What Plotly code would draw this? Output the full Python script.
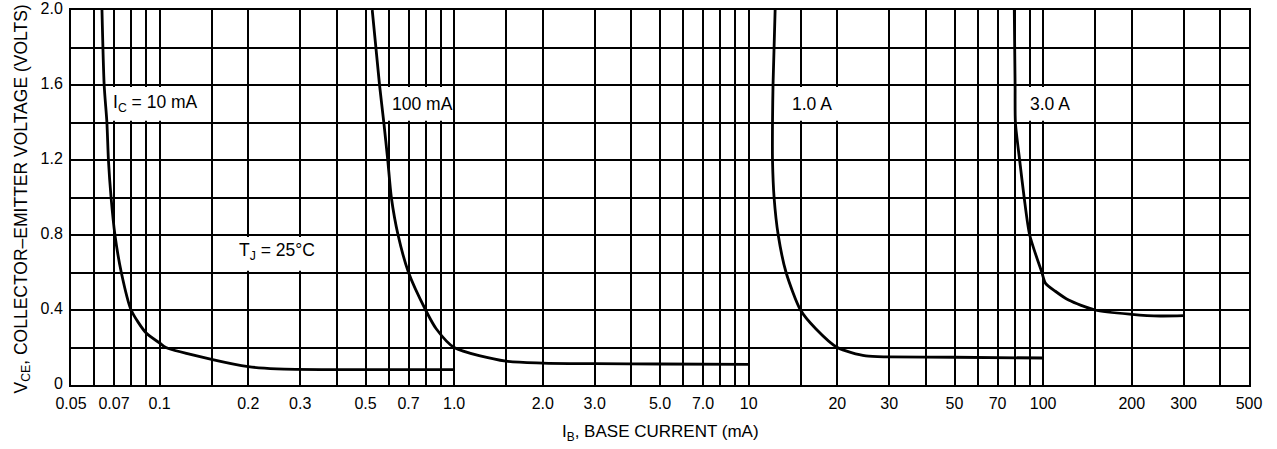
import plotly.graph_objects as go
import math

# ---- data ----
ib_10ma = [0.0637, 0.0648, 0.0662, 0.0670, 0.0684, 0.0705, 0.0741, 0.080, 0.090, 0.100, 0.105, 0.150, 0.200, 0.250, 0.40, 0.70, 1.00]
vce_10ma = [2.00, 1.60, 1.40, 1.20, 1.00, 0.80, 0.60, 0.40, 0.277, 0.224, 0.20, 0.137, 0.098, 0.086, 0.082, 0.082, 0.082]

ib_100ma = [0.527, 0.558, 0.577, 0.595, 0.612, 0.645, 0.70, 0.80, 0.869, 1.00, 1.50, 2.00, 3.00, 5.00, 10.0]
vce_100ma = [2.00, 1.60, 1.40, 1.20, 1.00, 0.80, 0.60, 0.40, 0.30, 0.20, 0.127, 0.117, 0.114, 0.112, 0.110]

ib_1a = [12.3, 12.1, 12.05, 12.05, 12.2, 12.6, 13.4, 15.0, 16.9, 20.0, 25.0, 30.0, 50.0, 100.0]
vce_1a = [2.00, 1.60, 1.40, 1.20, 1.00, 0.80, 0.60, 0.40, 0.30, 0.20, 0.155, 0.150, 0.148, 0.144]

ib_3a = [79.8, 80.3, 80.5, 83.2, 86.2, 90.0, 99.0, 101.9, 110.0, 122.0, 150.0, 200.0, 250.0, 300.0]
vce_3a = [2.00, 1.60, 1.40, 1.20, 1.00, 0.80, 0.60, 0.542, 0.50, 0.453, 0.40, 0.377, 0.368, 0.370]

x_tick_vals = [0.05, 0.07, 0.1, 0.2, 0.3, 0.5, 0.7, 1.0, 2.0, 3.0, 5.0, 7.0, 10, 20, 30, 50, 70, 100, 200, 300, 500]
x_tick_text = ["0.05", "0.07", "0.1", "0.2", "0.3", "0.5", "0.7", "1.0", "2.0", "3.0", "5.0", "7.0",
               "10", "20", "30", "50", "70", "100", "200", "300", "500"]
x_minor_vals = [0.06, 0.08, 0.09, 0.15, 0.4, 0.6, 0.8, 0.9, 1.5, 4, 6, 8, 9, 15, 40, 60, 80, 90, 150, 400]
y_tick_vals = [0, 0.4, 0.8, 1.2, 1.6, 2.0]
y_tick_text = ["0", "0.4", "0.8", "1.2", "1.6", "2.0"]
y_minor_vals = [0.2, 0.6, 1.0, 1.4, 1.8]

# label text, start position (x data, y data), white box behind it (x0, x1, y0, y1 in data values)
labels = [
    ("I<sub>C</sub> = 10 mA", 0.0687, 1.50, (0.0668, 0.142, 1.41, 1.59)),
    ("100 mA", 0.61, 1.50, (0.59, 0.975, 1.41, 1.59)),
    ("1.0 A", 13.95, 1.50, (12.7, 26.5, 1.41, 1.59)),
    ("3.0 A", 89.5, 1.50, (82.0, 140.0, 1.41, 1.59)),
    ("T<sub>J</sub> = 25°C", 0.184, 0.71, (0.18, 0.37, 0.61, 0.79)),
]

FONT = "Liberation Sans, Arial, sans-serif"

fig = go.Figure()
for xs, ys in [(ib_10ma, vce_10ma), (ib_100ma, vce_100ma), (ib_1a, vce_1a), (ib_3a, vce_3a)]:
    fig.add_trace(go.Scatter(x=xs, y=ys, mode="lines",
                             line=dict(color="black", width=2.8, shape="spline", smoothing=0.7),
                             showlegend=False, hoverinfo="skip"))

for text, lx, ly, (bx0, bx1, by0, by1) in labels:
    fig.add_shape(type="rect", xref="x", yref="y",
                  x0=bx0, x1=bx1, y0=by0, y1=by1,
                  fillcolor="white", line=dict(width=0), layer="between")
    fig.add_annotation(x=math.log10(lx), y=ly, xref="x", yref="y", text=text,
                       showarrow=False, xanchor="left", yanchor="middle", borderpad=0,
                       font=dict(family=FONT, size=17.5, color="black"))

# axis titles
fig.add_annotation(xref="paper", yref="paper", x=0, y=0.5, xshift=-49, yshift=-2, textangle=-90,
                   xanchor="center", yanchor="middle", showarrow=False,
                   text="V<sub>CE</sub>, COLLECTOR–EMITTER VOLTAGE (VOLTS)",
                   font=dict(family=FONT, size=17.5, color="black"))
fig.add_annotation(xref="paper", yref="paper", x=0.5, y=0, yshift=-48,
                   xanchor="center", yanchor="middle", showarrow=False,
                   text="I<sub>B</sub>, BASE CURRENT (mA)",
                   font=dict(family=FONT, size=17, color="black"))

GRID_W = 1.6
fig.update_xaxes(
    type="log", range=[math.log10(0.05), math.log10(500)], automargin=False,
    tickmode="array", tickvals=x_tick_vals, ticktext=x_tick_text,
    showgrid=True, gridcolor="black", gridwidth=GRID_W,
    minor=dict(tickmode="array", tickvals=x_minor_vals, showgrid=True, gridcolor="black", gridwidth=GRID_W, ticks=""),
    ticks="", showline=True, linecolor="black", linewidth=2, mirror=True,
    tickfont=dict(family=FONT, size=16, color="black"), ticklabelstandoff=3, ticklabeloverflow="allow",
    zeroline=False,
)
fig.update_yaxes(
    range=[0, 2.0], automargin=False,
    tickmode="array", tickvals=y_tick_vals, ticktext=y_tick_text,
    showgrid=True, gridcolor="black", gridwidth=GRID_W,
    minor=dict(tickmode="array", tickvals=y_minor_vals, showgrid=True, gridcolor="black", gridwidth=GRID_W, ticks=""),
    ticks="", showline=True, linecolor="black", linewidth=2, mirror=True,
    tickfont=dict(family=FONT, size=16, color="black"), ticklabelstandoff=3, ticklabelshift=-2,
    ticklabeloverflow="allow",
    zeroline=False,
)
fig.update_layout(
    width=1277, height=449,
    margin=dict(l=71, r=28, t=10, b=64),
    paper_bgcolor="white", plot_bgcolor="white",
    font=dict(family=FONT, color="black"),
)
# remove the default 8px page margin so the figure sits at the window origin
fig.write_html("out.html", config={"displayModeBar": False},
               post_script="document.body.style.margin='0';")
